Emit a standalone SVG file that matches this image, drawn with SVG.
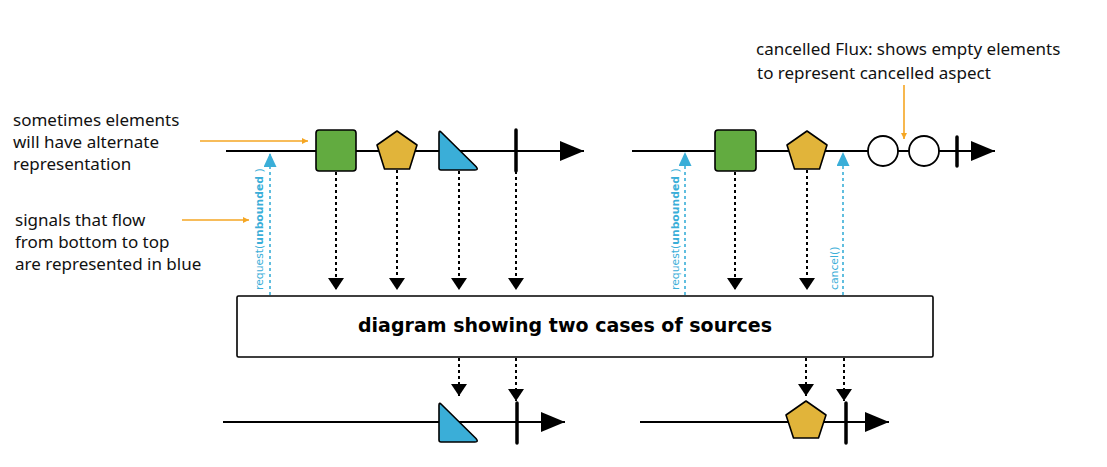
<svg xmlns="http://www.w3.org/2000/svg" width="1107" height="467" viewBox="0 0 1107 467">
<defs>
<style>
.tl{stroke:#000;stroke-width:2;fill:none}
.bar{stroke:#000;stroke-width:3.5;stroke-linecap:round}
.dn{stroke:#000;stroke-width:2;stroke-dasharray:3 3;fill:none}
.up{stroke:#3aaed8;stroke-width:1.6;stroke-dasharray:3 3;fill:none}
.or{stroke:#f5a623;stroke-width:1.6;fill:none}
.sq{fill:#62ab40;stroke:#000;stroke-width:1.6}
.pent{fill:#e1b43a;stroke:#000;stroke-width:1.6;stroke-linejoin:round}
.tri{fill:#3aaed8;stroke:#000;stroke-width:1.6;stroke-linejoin:round}
.circ{fill:#fff;stroke:#000;stroke-width:1.8}
.ann{font-family:"Noto Sans","DejaVu Sans",sans-serif;font-size:17px;fill:#111}
.btxt{font-family:"DejaVu Sans",sans-serif;font-size:10.8px;fill:#3aaed8}
.title{font-family:"DejaVu Sans",sans-serif;font-weight:bold;font-size:19px;fill:#000}
</style>
<marker id="dh" viewBox="0 0 12 16" refX="12" refY="8" markerWidth="12" markerHeight="16" markerUnits="userSpaceOnUse" orient="auto"><path d="M0,0 L12,8 L0,16 Z" fill="#000"/></marker>
<marker id="uh" viewBox="0 0 14 13" refX="13" refY="6.5" markerWidth="14" markerHeight="13" markerUnits="userSpaceOnUse" orient="auto"><path d="M0,0 L14,6.5 L0,13 Z" fill="#3aaed8"/></marker>
<marker id="oh" viewBox="0 0 6 6" refX="6" refY="3" markerWidth="6" markerHeight="6" markerUnits="userSpaceOnUse" orient="auto"><path d="M0,0 L6,3 L0,6 Z" fill="#f5a623"/></marker>
<marker id="th" viewBox="0 0 24 20" refX="24" refY="10" markerWidth="24" markerHeight="20" markerUnits="userSpaceOnUse" orient="auto"><path d="M0,0 L24,10 L0,20 Z" fill="#000"/></marker>
</defs>
<rect width="1107" height="467" fill="#fff"/>

<g id="connectors">
<line class="tl" x1="226" y1="151" x2="584" y2="151" marker-end="url(#th)"/>
<line class="tl" x1="632" y1="151" x2="995" y2="151" marker-end="url(#th)"/>
<line class="tl" x1="223" y1="422" x2="565" y2="422" marker-end="url(#th)"/>
<line class="tl" x1="640" y1="422" x2="889" y2="422" marker-end="url(#th)"/>
<line class="dn" x1="336" y1="172" x2="336" y2="290" marker-end="url(#dh)"/>
<line class="dn" x1="397" y1="170" x2="397" y2="290" marker-end="url(#dh)"/>
<line class="dn" x1="459" y1="171" x2="459" y2="290" marker-end="url(#dh)"/>
<line class="dn" x1="516" y1="171" x2="516" y2="290" marker-end="url(#dh)"/>
<line class="dn" x1="735" y1="172" x2="735" y2="290" marker-end="url(#dh)"/>
<line class="dn" x1="807" y1="170" x2="807" y2="290" marker-end="url(#dh)"/>
<line class="dn" x1="459" y1="358" x2="459" y2="396" marker-end="url(#dh)"/>
<line class="dn" x1="516" y1="358" x2="516" y2="401" marker-end="url(#dh)"/>
<line class="dn" x1="806" y1="358" x2="806" y2="396" marker-end="url(#dh)"/>
<line class="dn" x1="844" y1="358" x2="844" y2="401" marker-end="url(#dh)"/>
<line class="up" x1="270" y1="295" x2="270" y2="154" marker-end="url(#uh)"/>
<line class="up" x1="685" y1="295" x2="685" y2="153" marker-end="url(#uh)"/>
<line class="up" x1="843" y1="295" x2="843" y2="153" marker-end="url(#uh)"/>
<line class="or" x1="200" y1="141" x2="308" y2="141" marker-end="url(#oh)"/>
<line class="or" x1="182" y1="220" x2="249" y2="220" marker-end="url(#oh)"/>
<line class="or" x1="904" y1="85" x2="904" y2="139" marker-end="url(#oh)"/>
</g>

<g id="top-left-elements">
<rect class="sq" x="316" y="130" width="40" height="41" rx="3"/>
<path class="pent" d="M397,131 L417,145 L409.5,169 L384.5,169 L377,145 Z"/>
<path class="tri" d="M439,133 Q439,130 441.5,132.5 L476,166.5 Q479,170 475,170 L441,170 Q439,170 439,168 Z"/>
<line class="bar" x1="516" y1="130" x2="516" y2="171"/>
</g>

<g id="top-right-elements">
<rect class="sq" x="715" y="130" width="41" height="41" rx="3"/>
<path class="pent" d="M807,131 L827,145 L819.5,169 L794.5,169 L787,145 Z"/>
<circle class="circ" cx="883" cy="151" r="15"/>
<circle class="circ" cx="924" cy="151" r="15"/>
<line class="bar" x1="957" y1="137" x2="957" y2="166"/>
</g>

<g id="bottom-left-elements">
<path class="tri" d="M439,405 Q439,402 441.5,404.5 L476,438.5 Q479,442 475,442 L441,442 Q439,442 439,440 Z"/>
<line class="bar" x1="517" y1="403" x2="517" y2="443"/>
</g>

<g id="bottom-right-elements">
<path class="pent" d="M806,401 L826,415 L818.5,438 L793.5,438 L786,415 Z"/>
<line class="bar" x1="846" y1="403" x2="846" y2="443"/>
</g>

<g id="operator-box">
<rect x="237" y="296" width="696" height="61" rx="1.5" fill="#fff" stroke="#000" stroke-width="1.6"/>
<text class="title" x="565" y="332" text-anchor="middle">diagram showing two cases of sources</text>
</g>

<g id="signal-labels">
<text class="btxt" transform="translate(263,290) rotate(-90)">request(<tspan font-weight="bold">unbounded</tspan> )</text>
<text class="btxt" transform="translate(679,290) rotate(-90)">request(<tspan font-weight="bold">unbounded</tspan> )</text>
<text class="btxt" transform="translate(838,290) rotate(-90)">cancel()</text>
</g>

<g id="annotation-alternate">
<text class="ann" x="13" y="126">sometimes elements</text>
<text class="ann" x="13" y="148">will have alternate</text>
<text class="ann" x="13" y="170">representation</text>
</g>
<g id="annotation-signals">
<text class="ann" x="15" y="226">signals that flow</text>
<text class="ann" x="15" y="248">from bottom to top</text>
<text class="ann" x="15" y="270">are represented in blue</text>
</g>
<g id="annotation-cancelled">
<text class="ann" x="756" y="55">cancelled Flux: shows empty elements</text>
<text class="ann" x="757" y="79">to represent cancelled aspect</text>
</g>
</svg>
